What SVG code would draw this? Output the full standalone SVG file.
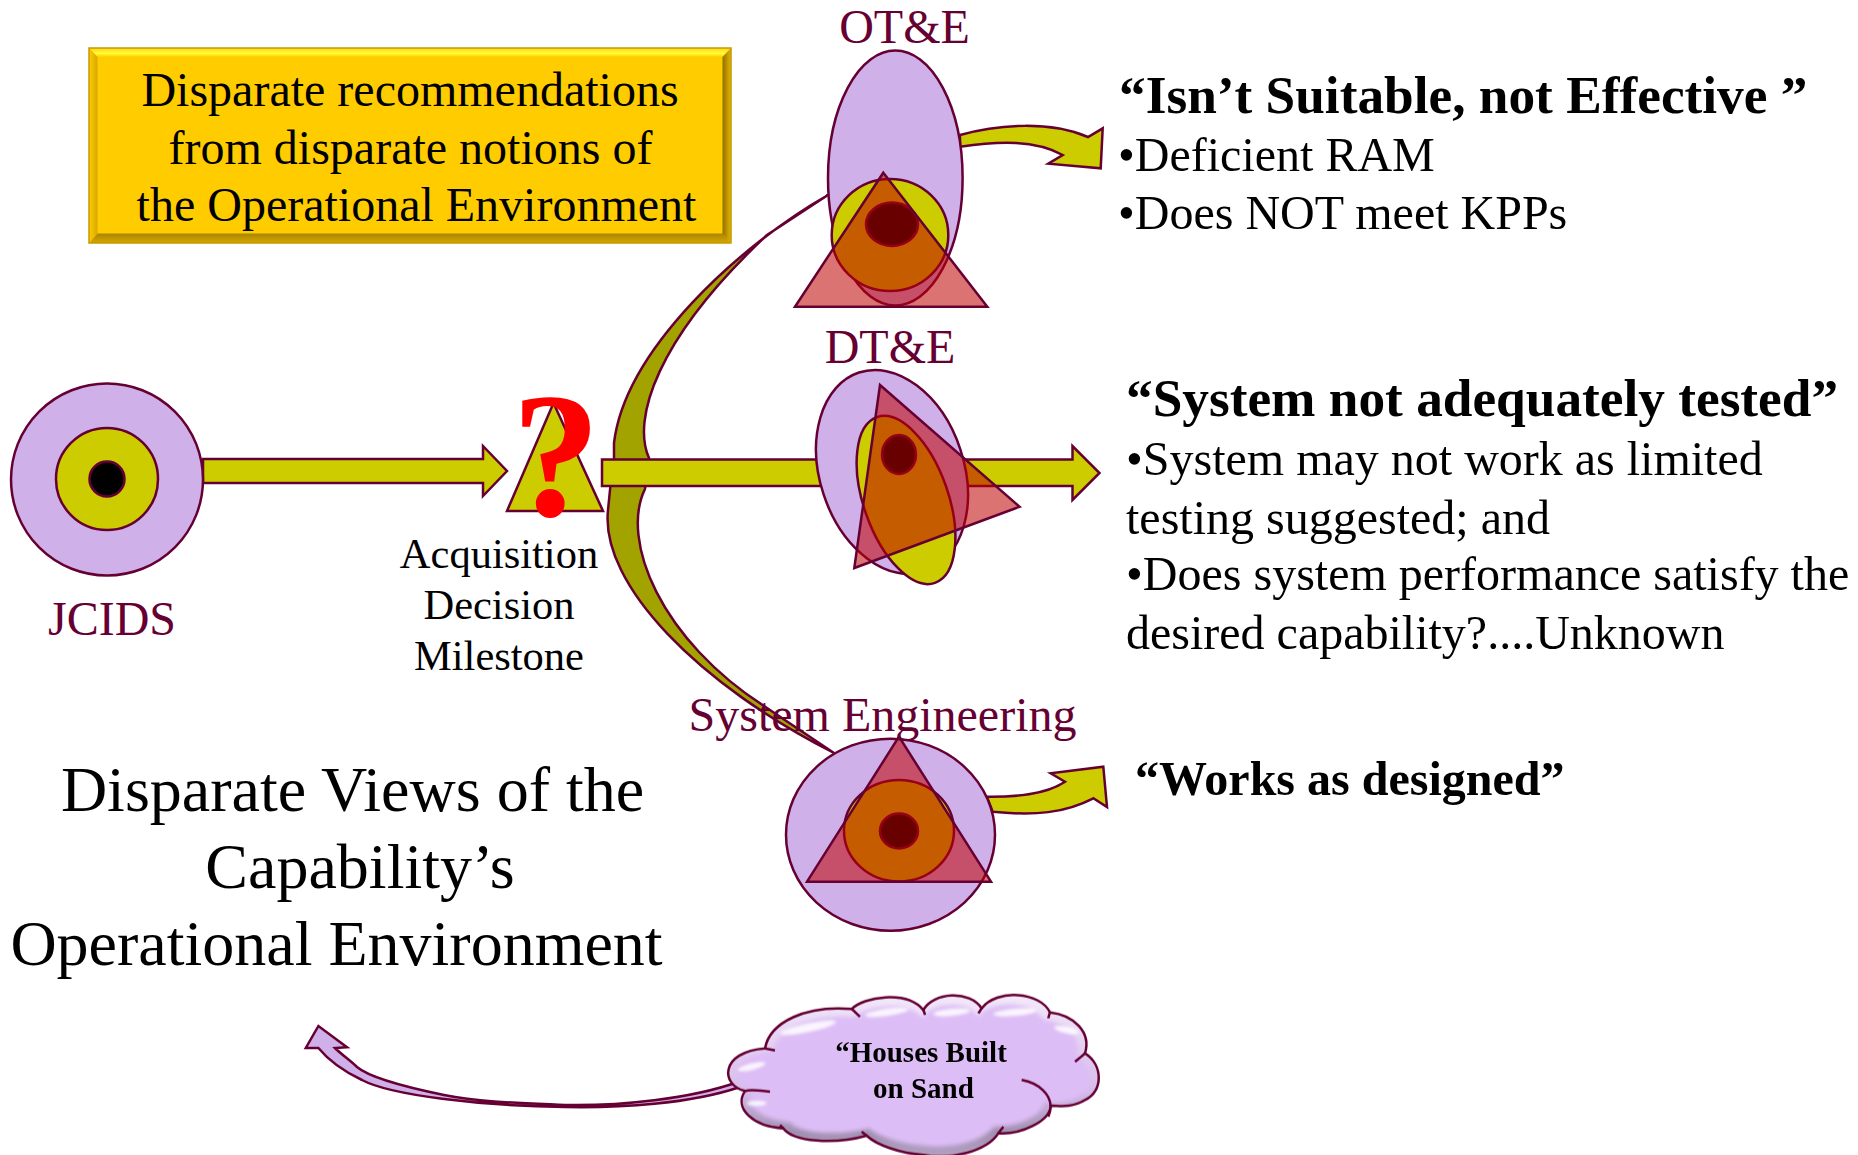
<svg xmlns="http://www.w3.org/2000/svg" width="1858" height="1155" viewBox="0 0 1858 1155">
<style>
text{font-family:"Liberation Serif","Times New Roman",serif;fill:#000}
.m{fill:#660033;font-size:48px;text-anchor:middle}
.b{font-size:48px}
.h{font-size:53.300px;font-weight:bold}
.h2{font-size:48px;font-weight:bold}
.c{text-anchor:middle}
.s{stroke:#660033;stroke-width:2.500;stroke-linejoin:miter}
.lil{fill:#CFB0E8}
.yel{fill:#CCCC00}
.blk{fill:#000}
.tri{fill:#C00000;fill-opacity:.55}
.ol{fill:#A3A300}
</style>
<defs>
<linearGradient id="cloudEdge" x1="0" y1="0" x2="0" y2="1"><stop offset="0" stop-color="#F3E9FA"/><stop offset=".6" stop-color="#D6BBEA"/><stop offset=".85" stop-color="#A08FB0"/><stop offset="1" stop-color="#B3A0C2"/></linearGradient>
<linearGradient id="top" x1="0" y1="0" x2="0" y2="1"><stop offset="0" stop-color="#FFD21A"/><stop offset=".6" stop-color="#FFFF33"/><stop offset="1" stop-color="#FFCC00"/></linearGradient>
<linearGradient id="bot" x1="0" y1="0" x2="0" y2="1"><stop offset="0" stop-color="#A98400"/><stop offset="1" stop-color="#D6A700"/></linearGradient>
<linearGradient id="rgt" x1="0" y1="0" x2="1" y2="0"><stop offset="0" stop-color="#8F7000"/><stop offset="1" stop-color="#E6B400"/></linearGradient>
<linearGradient id="lft" x1="0" y1="0" x2="1" y2="0"><stop offset="0" stop-color="#FFCC00"/><stop offset="1" stop-color="#D9A800"/></linearGradient>
<filter id="blur" x="-10%" y="-10%" width="120%" height="120%"><feGaussianBlur stdDeviation="7"/></filter>
<filter id="blur2" x="-30%" y="-80%" width="160%" height="260%"><feGaussianBlur stdDeviation="5"/></filter>
<path id="cloudShape" d="M135,190C150,110 260,60 395,72C430,35 560,15 610,75C640,20 750,15 785,70C830,10 960,20 990,82C1060,90 1115,140 1095,205C1150,240 1150,320 1095,345C1065,365 1030,365 992,362C990,410 900,450 835,445C800,500 690,525 610,510C540,505 470,480 440,452C340,480 220,470 190,430C100,425 40,370 75,318C0,300 0,200 135,190Z"/>
</defs>

<g id="connectors">
<path id="crescent" class="ol s" d="M828,195C740,245 625,350 614,443L614,460L612,470L608,510C600,585 700,685 834,753L767,708C660,640 620,540 645,489L649,458C632,420 655,340 767,235Z"/>
<path id="jcids-arrow" class="yel s" d="M203,459H483V446L507,471L483,496V483H203Z"/>
<path id="adm-arrow" class="yel s" d="M602,459.500H1072.500V446L1099.500,473L1072.500,500V486H602Z"/>
<path id="ote-arrow" class="yel s" d="M960,135C1000,124 1050,121 1088,137L1102.700,128.300L1100.700,168.300L1048.300,163.700L1062.700,155C1035,140 1000,141 960,146.700Z"/>
<path id="se-arrow" class="yel s" d="M986.700,796.700C1015,797 1045,795 1065,781.700L1050.700,773.300L1103.300,766.700L1107,807L1093.300,798.300C1065,813 1035,816 992.700,811.700Z"/>
<path id="cloud-arrow" class="lil s" d="M738,1082C690,1099 620,1106 565,1105C520,1103 480,1102 444,1095C410,1088 370,1078 357,1067C350,1060 342,1055 335,1048L347,1047.300L318.400,1026L305.800,1048H318.400C330,1062 345,1072 362,1080C390,1095 480,1106 565,1107C620,1108 690,1104 740,1087Z"/>
</g>

<g id="callout-box">
<rect x="89" y="48" width="642" height="195" fill="#FFCC00"/>
<polygon points="89,48 731,48 722.500,57 97.500,57" fill="url(#top)"/>
<polygon points="89,243 731,243 722.500,233.500 97.500,233.500" fill="url(#bot)"/>
<polygon points="731,48 731,243 722.500,233.500 722.500,57" fill="url(#rgt)"/>
<polygon points="89,48 89,243 97.500,233.500 97.500,57" fill="url(#lft)"/>
<rect x="89" y="48" width="642" height="195" fill="none" stroke="#C49A00" stroke-width="1.500"/>
<text class="b c" x="410" y="105.500">Disparate recommendations</text>
<text class="b c" x="410.500" y="163.500">from disparate notions of</text>
<text class="b c" x="416.500" y="220.500">the Operational Environment</text>
</g>

<g id="jcids">
<circle class="lil s" cx="107" cy="479.500" r="96"/>
<circle class="yel s" cx="107" cy="479" r="51"/>
<circle class="blk s" cx="107" cy="479" r="17.500"/>
<text class="m" x="112" y="635">JCIDS</text>
</g>

<g id="milestone">
<polygon class="yel s" points="553.500,403 603,511 507,511"/>
<text x="556" y="515" font-size="178" font-weight="bold" text-anchor="middle" style="fill:#FF0000">?</text>
<text class="c" font-size="42.500" x="499" y="568">Acquisition</text>
<text class="c" font-size="42.500" x="499" y="619">Decision</text>
<text class="c" font-size="42.500" x="499" y="670">Milestone</text>
</g>

<g id="ote">
<ellipse class="lil s" cx="895.300" cy="178" rx="67.300" ry="127.500"/>
<ellipse class="yel s" cx="890" cy="235" rx="58.300" ry="56"/>
<ellipse class="blk s" cx="892" cy="224.300" rx="26" ry="21.700"/>
<polygon class="tri s" points="883.300,172.700 987.300,306.700 795,306.700"/>
<text class="m" x="904.500" y="43">OT&amp;E</text>
</g>

<g id="dte">
<ellipse class="lil s" cx="0" cy="0" rx="72" ry="104.800" transform="translate(892 472) rotate(-18.400)"/>
<ellipse class="yel s" cx="0" cy="0" rx="42.300" ry="87.800" transform="translate(906 500) rotate(-19.300)"/>
<ellipse class="blk s" cx="899" cy="454.500" rx="17" ry="19.500"/>
<polygon class="tri s" points="880,385 1019.600,506.700 854.300,568"/>
<text class="m" x="890" y="363">DT&amp;E</text>
</g>

<g id="se">
<ellipse class="lil s" cx="890.500" cy="834.700" rx="104.500" ry="96"/>
<ellipse class="yel s" cx="899" cy="830.700" rx="55" ry="50.700"/>
<ellipse class="blk s" cx="899" cy="831" rx="19" ry="17.500"/>
<polygon class="tri s" points="899,736.700 991,881.700 807,881.700"/>
<text class="m" x="882.500" y="731">System Engineering</text>
</g>

<g id="cloud">
<g transform="translate(720 985) scale(.33333)">
<use href="#cloudShape" fill="url(#cloudEdge)"/>
<g transform="translate(580 270) scale(.95 .88) translate(-580 -270)"><use href="#cloudShape" fill="#DDBDF6" filter="url(#blur)"/></g>
<g fill="#FFFFFF" fill-opacity=".85" filter="url(#blur2)">
<ellipse cx="265" cy="128" rx="85" ry="13" transform="rotate(-12 265 128)"/>
<ellipse cx="500" cy="82" rx="65" ry="11" transform="rotate(-8 500 82)"/>
<ellipse cx="695" cy="82" rx="55" ry="11" transform="rotate(-5 695 82)"/>
<ellipse cx="885" cy="82" rx="65" ry="11" transform="rotate(-5 885 82)"/>
<ellipse cx="1040" cy="135" rx="38" ry="10" transform="rotate(12 1040 135)"/>
<ellipse cx="95" cy="245" rx="42" ry="10" transform="rotate(-14 95 245)"/>
<ellipse cx="110" cy="355" rx="30" ry="8"/>
</g>
<use href="#cloudShape" fill="none" stroke="#660033" stroke-width="7.500"/>
<path d="M135,190C145,192 155,194 165,196M395,72C405,80 412,88 420,95M610,75C612,80 614,85 615,90M785,70C782,75 778,80 775,85M990,82C988,88 986,94 985,100M1095,205C1085,215 1075,222 1065,230M905,285C960,295 990,330 992,362C992,372 990,384 985,395M75,318C95,312 125,318 150,320M835,445C840,438 845,432 850,425M440,452C435,448 430,444 425,440M190,430C187,427 184,424 180,420" fill="none" stroke="#660033" stroke-width="7.500"/>
</g>
<text class="c" font-size="29" font-weight="bold" x="921" y="1062">“Houses Built</text>
<text class="c" font-size="29" font-weight="bold" x="923.500" y="1098">on Sand</text>
</g>

<g id="title">
<text class="c" font-size="64" x="352.500" y="811">Disparate Views of the</text>
<text class="c" font-size="64" x="360" y="888">Capability’s</text>
<text class="c" font-size="64" x="336.500" y="965">Operational Environment</text>
</g>

<g id="finding-ote">
<text class="h" x="1119" y="113">“Isn’t Suitable, not Effective ”</text>
<text class="b" x="1118" y="171">•Deficient RAM</text>
<text class="b" x="1118" y="229">•Does NOT meet KPPs</text>
</g>
<g id="finding-dte">
<text class="h" x="1126" y="416">“System not adequately tested”</text>
<text class="b" x="1126" y="475">•System may not work as limited</text>
<text class="b" x="1126" y="533.500">testing suggested; and</text>
<text class="b" x="1126" y="590">•Does system performance satisfy the</text>
<text class="b" x="1126" y="648.500">desired capability?....Unknown</text>
</g>
<g id="finding-se">
<text class="h2" x="1135" y="795">“Works as designed”</text>
</g>
</svg>
